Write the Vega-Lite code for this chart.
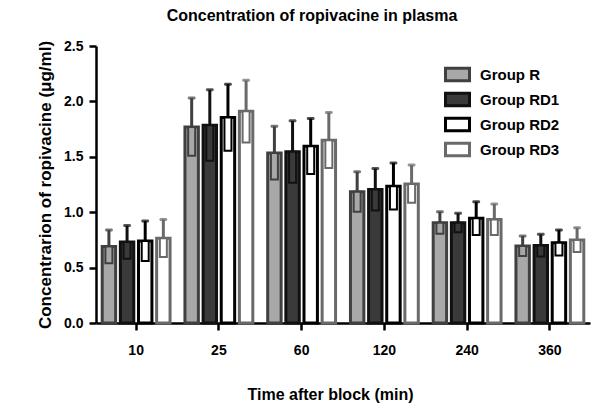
{
  "$schema": "https://vega.github.io/schema/vega-lite/v6.json",
  "width": 494,
  "height": 277,
  "autosize": {"type": "none"},
  "padding": {"left": 96, "top": 46, "right": 12, "bottom": 88},
  "background": "white",
  "config": {
    "font": "Liberation Sans",
    "view": {"stroke": null},
    "axis": {"labelFont": "Liberation Sans", "titleFont": "Liberation Sans", "labelFontWeight": "bold", "titleFontWeight": "bold", "labelColor": "#000", "titleColor": "#000", "domainColor": "#000", "tickColor": "#000", "domainWidth": 2.5, "tickWidth": 2.5, "grid": false}
  },
  "title": {"text": "Concentration of ropivacine in plasma", "font": "Liberation Sans", "fontSize": 16, "fontWeight": "bold", "color": "#000", "anchor": "middle", "dx": -31, "offset": 15},
  "data": {"values": [
    {"time": "10", "group": "Group R", "mean": 0.69, "sd": 0.15},
    {"time": "10", "group": "Group RD1", "mean": 0.73, "sd": 0.15},
    {"time": "10", "group": "Group RD2", "mean": 0.74, "sd": 0.18},
    {"time": "10", "group": "Group RD3", "mean": 0.765, "sd": 0.17},
    {"time": "25", "group": "Group R", "mean": 1.77, "sd": 0.26},
    {"time": "25", "group": "Group RD1", "mean": 1.785, "sd": 0.32},
    {"time": "25", "group": "Group RD2", "mean": 1.855, "sd": 0.30},
    {"time": "25", "group": "Group RD3", "mean": 1.91, "sd": 0.28},
    {"time": "60", "group": "Group R", "mean": 1.535, "sd": 0.24},
    {"time": "60", "group": "Group RD1", "mean": 1.545, "sd": 0.28},
    {"time": "60", "group": "Group RD2", "mean": 1.595, "sd": 0.25},
    {"time": "60", "group": "Group RD3", "mean": 1.65, "sd": 0.25},
    {"time": "120", "group": "Group R", "mean": 1.185, "sd": 0.18},
    {"time": "120", "group": "Group RD1", "mean": 1.205, "sd": 0.19},
    {"time": "120", "group": "Group RD2", "mean": 1.235, "sd": 0.21},
    {"time": "120", "group": "Group RD3", "mean": 1.255, "sd": 0.17},
    {"time": "240", "group": "Group R", "mean": 0.905, "sd": 0.10},
    {"time": "240", "group": "Group RD1", "mean": 0.905, "sd": 0.085},
    {"time": "240", "group": "Group RD2", "mean": 0.945, "sd": 0.15},
    {"time": "240", "group": "Group RD3", "mean": 0.935, "sd": 0.14},
    {"time": "360", "group": "Group R", "mean": 0.695, "sd": 0.09},
    {"time": "360", "group": "Group RD1", "mean": 0.70, "sd": 0.10},
    {"time": "360", "group": "Group RD2", "mean": 0.725, "sd": 0.115},
    {"time": "360", "group": "Group RD3", "mean": 0.75, "sd": 0.11}
  ]},
  "transform": [
    {"calculate": "datum.mean + datum.sd", "as": "hi"},
    {"calculate": "datum.mean - datum.sd", "as": "lo"}
  ],
  "encoding": {
    "x": {"field": "time", "type": "nominal", "sort": ["10", "25", "60", "120", "240", "360"],
      "scale": {"paddingInner": 0.18, "paddingOuter": 0.075},
      "axis": {"title": "Time after block (min)", "titleFontSize": 16, "titlePadding": 29, "titleX": 234, "labelFontSize": 14, "labelAngle": 0, "tickSize": 7, "labelPadding": 13}},
    "xOffset": {"field": "group", "type": "nominal", "scale": {"paddingInner": 0.26}}
  },
  "layer": [
    {
      "mark": {"type": "rule", "strokeWidth": 3},
      "encoding": {
        "y": {"field": "mean", "type": "quantitative"},
        "y2": {"field": "hi"},
        "color": {"field": "group", "type": "nominal", "scale": {"range": ["#404040", "#111111", "#000000", "#6a6a6a"]}, "legend": null}
      }
    },
    {
      "mark": {"type": "tick", "thickness": 3, "size": 8, "orient": "horizontal", "cornerRadius": 1.5},
      "encoding": {
        "y": {"field": "hi", "type": "quantitative"},
        "color": {"field": "group", "type": "nominal", "legend": null}
      }
    },
    {
      "mark": {"type": "bar", "strokeWidth": 3},
      "encoding": {
        "y": {"field": "mean", "type": "quantitative",
          "scale": {"domain": [0, 2.5], "nice": false},
          "axis": {"title": "Concentrarion of ropivacine (μg/ml)", "titleFontSize": 17, "titlePadding": 9, "labelFontSize": 14, "values": [0, 0.5, 1, 1.5, 2, 2.5], "format": ".1f", "tickSize": 7, "labelPadding": 6}},
        "fill": {"field": "group", "type": "nominal", "scale": {"range": ["#a8a8a8", "#3a3a3a", "#ffffff", "#ffffff"]},
          "legend": {"title": null, "orient": "none", "legendX": 350, "legendY": 17, "symbolType": "M-1.2,-0.62H1.2V0.62H-1.2Z", "symbolSize": 400, "symbolStrokeWidth": 3, "labelFontSize": 15, "labelFontWeight": "bold", "labelColor": "#000", "labelFont": "Liberation Sans", "rowPadding": 0, "labelOffset": 11}},
        "stroke": {"field": "group", "type": "nominal", "scale": {"range": ["#404040", "#111111", "#000000", "#6a6a6a"]},
          "legend": {"title": null, "orient": "none", "legendX": 350, "legendY": 17, "symbolType": "M-1.2,-0.62H1.2V0.62H-1.2Z", "symbolSize": 400, "symbolStrokeWidth": 3, "labelFontSize": 15, "labelFontWeight": "bold", "labelColor": "#000", "labelFont": "Liberation Sans", "rowPadding": 0, "labelOffset": 11}}
      }
    },
    {
      "mark": {"type": "bar", "strokeWidth": 2, "width": 7},
      "encoding": {
        "y": {"field": "lo", "type": "quantitative"},
        "y2": {"field": "mean"},
        "fill": {"field": "group", "type": "nominal"},
        "stroke": {"field": "group", "type": "nominal"}
      }
    }
  ]
}
